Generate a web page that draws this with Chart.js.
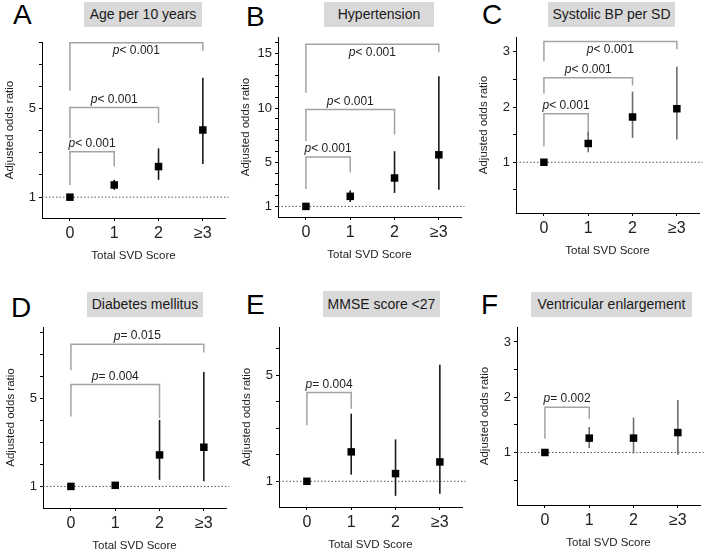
<!DOCTYPE html>
<html>
<head>
<meta charset="utf-8">
<script src="https://cdn.jsdelivr.net/npm/chart.js@4.4.1/dist/chart.umd.min.js"></script>
<style>
  body { margin: 0; background: #fff; font-family: "Liberation Sans", Arial, sans-serif; }
  #pagina { position: relative; width: 708px; height: 553px; overflow: hidden; }
  .letra { position: absolute; font-size: 28px; line-height: 28px; color: #000; }
  .titulo { position: absolute; background: #d9d9d9; color: #1a1a1a; font-size: 14px; text-align: center; }
  canvas { position: absolute; }
</style>
</head>
<body>
<div id="pagina"></div>
<script>
// Categorías del eje X
const categories = ['0', '1', '2', '≥3'];

// A - Edad por 10 años
const ageOR = [1, 1.55, 2.38, 4.03];
const ageLow = [null, 1.33, 1.78, 2.5];
const ageHigh = [null, 1.78, 3.2, 6.39];
const ageBrackets = [[1, 3.05, 1.55, 2.38, '< 0.001'], [2, 5.05, 3.65, 4.35, '< 0.001'], [3, 7.97, 5.8, 7.6, '< 0.001']];
const ageTicks = [1, 2, 3, 4, 5, 6, 7, 8];
const ageTickLabels = [1, 5];

// B - Hipertensión
const htaOR = [1, 1.92, 3.6, 5.72];
const htaLow = [null, 1.4, 2.23, 2.53];
const htaHigh = [null, 2.47, 6.05, 12.9];
const htaBrackets = [[1, 5.53, 2.6, 4.1, '< 0.001'], [2, 9.87, 6.96, 7.58, '< 0.001'], [3, 15.83, 11.4, 15.1, '< 0.001']];
const htaTicks = [1, 2, 3, 4, 5, 6, 7, 8, 9, 10, 11, 12, 13, 14, 15, 16];
const htaTickLabels = [1, 5, 10, 15];

// C - Presión sistólica por DE
const sbpOR = [1, 1.34, 1.82, 1.97];
const sbpLow = [null, 1.18, 1.44, 1.41];
const sbpHigh = [null, 1.55, 2.28, 2.73];
const sbpBrackets = [[1, 1.88, 1.29, 1.47, '< 0.001'], [2, 2.53, 2.24, 2.39, '< 0.001'], [3, 3.19, 2.83, 3.05, '< 0.001']];
const sbpTicks = [0.5, 1, 1.5, 2, 2.5, 3];
const sbpTickLabels = [1, 2, 3];

// D - Diabetes
const dmOR = [1, 1.05, 2.43, 2.78];
const dmLow = [null, null, 1.3, 1.23];
const dmHigh = [null, null, 4.02, 6.2];
const dmBrackets = [[2, 5.63, 4.17, 4.1, '= 0.004'], [3, 7.46, 6.28, 7.08, '= 0.015']];
const dmTicks = [1, 2, 3, 4, 5, 6, 7, 8];
const dmTickLabels = [1, 5];

// E - MMSE < 27
const mmseOR = [1, 2.11, 1.29, 1.73];
const mmseLow = [null, 1.25, 0.45, 0.53];
const mmseHigh = [null, 3.55, 2.58, 5.4];
const mmseBrackets = [[1, 4.35, 3.11, 3.74, '= 0.004']];
const mmseTicks = [1, 2, 3, 4, 5, 6];
const mmseTickLabels = [1, 5];

// F - Agrandamiento ventricular
const ventOR = [1, 1.26, 1.26, 1.36];
const ventLow = [null, 1.08, 0.98, 0.96];
const ventHigh = [null, 1.46, 1.63, 1.95];
const ventBrackets = [[1, 1.82, 1.25, 1.61, '= 0.002']];
const ventTicks = [0.5, 1, 1.5, 2, 2.5, 3];
const ventTickLabels = [1, 2, 3];

const X_MIN = -0.63;
const X_MAX = 3.5;
const FUENTE = '"Liberation Sans", Arial, sans-serif';

Chart.defaults.font.family = FUENTE;

const paneles = [
  { letra: 'A', titulo: 'Age per 10 years', or: ageOR, low: ageLow, high: ageHigh, brackets: ageBrackets,
    ticks: ageTicks, labels: ageTickLabels, yMin: 0.06, yMax: 8.0, ciColor: '#1a1a1a',
    area: { l: 42, t: 42, r: 225, b: 218 }, letraPos: [13, 1], caja: [84, 2, 118, 25] },
  { letra: 'B', titulo: 'Hypertension', or: htaOR, low: htaLow, high: htaHigh, brackets: htaBrackets,
    ticks: htaTicks, labels: htaTickLabels, yMin: 0.03, yMax: 16.5, ciColor: '#1a1a1a',
    area: { l: 278, t: 37, r: 461, b: 217 }, letraPos: [246, 3], caja: [324, 2, 110, 25] },
  { letra: 'C', titulo: 'Systolic BP per SD', or: sbpOR, low: sbpLow, high: sbpHigh, brackets: sbpBrackets,
    ticks: sbpTicks, labels: sbpTickLabels, yMin: 0.08, yMax: 3.27, ciColor: '#6e6e6e',
    area: { l: 516, t: 37, r: 699, b: 213 }, letraPos: [482, 1], caja: [548, 2, 127, 25] },
  { letra: 'D', titulo: 'Diabetes mellitus', or: dmOR, low: dmLow, high: dmHigh, brackets: dmBrackets,
    ticks: dmTicks, labels: dmTickLabels, yMin: 0.02, yMax: 8.24, ciColor: '#1a1a1a',
    area: { l: 43, t: 327, r: 226, b: 508 }, letraPos: [11, 294], caja: [87, 292, 116, 25] },
  { letra: 'E', titulo: 'MMSE score <27', or: mmseOR, low: mmseLow, high: mmseHigh, brackets: mmseBrackets,
    ticks: mmseTicks, labels: mmseTickLabels, yMin: 0.03, yMax: 6.82, ciColor: '#1a1a1a',
    area: { l: 279, t: 327, r: 462, b: 507 }, letraPos: [246, 291], caja: [323, 291, 117, 26] },
  { letra: 'F', titulo: 'Ventricular enlargement', or: ventOR, low: ventLow, high: ventHigh, brackets: ventBrackets,
    ticks: ventTicks, labels: ventTickLabels, yMin: 0.05, yMax: 3.27, ciColor: '#6e6e6e',
    area: { l: 517, t: 327, r: 700, b: 505 }, letraPos: [481, 291], caja: [531, 292, 161, 25] }
];

const pagina = document.getElementById('pagina');

function crearPanel(p) {
  // Letra del panel y caja de título
  const letra = document.createElement('div');
  letra.className = 'letra';
  letra.textContent = p.letra;
  letra.style.left = p.letraPos[0] + 'px';
  letra.style.top = p.letraPos[1] + 'px';
  pagina.appendChild(letra);

  const caja = document.createElement('div');
  caja.className = 'titulo';
  caja.textContent = p.titulo;
  caja.style.left = p.caja[0] + 'px';
  caja.style.top = p.caja[1] + 'px';
  caja.style.width = p.caja[2] + 'px';
  caja.style.height = p.caja[3] + 'px';
  caja.style.lineHeight = p.caja[3] + 'px';
  pagina.appendChild(caja);

  // Canvas del gráfico
  const w = p.area.r - p.area.l + 50;
  const h = p.area.b - p.area.t + 64;
  const canvas = document.createElement('canvas');
  canvas.width = w;
  canvas.height = h;
  canvas.style.left = (p.area.l - 42) + 'px';
  canvas.style.top = (p.area.t - 14) + 'px';
  pagina.appendChild(canvas);

  const datasets = [];
  // Puntos (OR)
  datasets.push({
    data: p.or.map((v, i) => ({ x: i, y: v })),
    pointStyle: 'rect', pointRadius: 5.3, backgroundColor: '#000', borderColor: '#000', borderWidth: 0
  });
  // Intervalos de confianza
  p.low.forEach((lo, i) => {
    if (lo == null) return;
    datasets.push({
      data: [{ x: i, y: lo }, { x: i, y: p.high[i] }],
      showLine: true, pointRadius: 0, borderColor: p.ciColor, borderWidth: 1.6
    });
  });
  // Corchetes de comparación
  p.brackets.forEach(b => {
    datasets.push({
      data: [{ x: 0, y: b[2] }, { x: 0, y: b[1] }, { x: b[0], y: b[1] }, { x: b[0], y: b[3] }],
      showLine: true, pointRadius: 0, borderColor: '#a3a3a3', borderWidth: 1.5
    });
  });
  // Línea de referencia en OR = 1
  datasets.push({
    data: [{ x: X_MIN, y: 1 }, { x: X_MAX + 0.08, y: 1 }],
    showLine: true, pointRadius: 0, borderColor: '#555', borderWidth: 1, borderDash: [1.5, 2], clip: false
  });

  // Plugin para los textos de p
  const textoP = {
    id: 'textoP',
    afterDatasetsDraw(chart) {
      const { ctx, chartArea, scales: { x, y } } = chart;
      ctx.save();
      ctx.fillStyle = '#222';
      ctx.textBaseline = 'middle';
      ctx.textAlign = 'left';
      p.brackets.forEach(b => {
        const cx = x.getPixelForValue(b[0] / 2);
        const ly = y.getPixelForValue(b[1]);
        const ty = (ly - chartArea.top < 14) ? ly + 8 : ly - 8;
        ctx.font = 'italic 12px ' + FUENTE;
        const wp = ctx.measureText('p').width;
        ctx.font = '12px ' + FUENTE;
        const wr = ctx.measureText(b[4]).width;
        const x0 = cx - (wp + wr) / 2;
        ctx.font = 'italic 12px ' + FUENTE;
        ctx.fillText('p', x0, ty);
        ctx.font = '12px ' + FUENTE;
        ctx.fillText(b[4], x0 + wp, ty);
      });
      ctx.restore();
    }
  };

  new Chart(canvas, {
    type: 'scatter',
    data: { datasets: datasets },
    options: {
      responsive: false,
      animation: false,
      layout: { padding: { top: 14, right: 8, left: 0, bottom: 0 } },
      plugins: { legend: { display: false }, tooltip: { enabled: false } },
      scales: {
        x: {
          type: 'linear', min: X_MIN, max: X_MAX,
          afterBuildTicks: ax => { ax.ticks = categories.map((c, i) => ({ value: i })); },
          afterFit: ax => { ax.height = 50; },
          ticks: { autoSkip: false, maxRotation: 0, padding: 3, color: '#222', font: { size: 16 },
                   callback: v => categories[v] },
          grid: { drawOnChartArea: false, tickLength: 3, color: '#000' },
          border: { color: '#000', width: 1 },
          title: { display: true, text: 'Total SVD Score', color: '#222', font: { size: 11.5 },
                   padding: { top: 0, bottom: 5 } }
        },
        y: {
          type: 'linear', min: p.yMin, max: p.yMax,
          afterBuildTicks: ax => { ax.ticks = p.ticks.map(v => ({ value: v })); },
          afterFit: ax => { ax.width = 42; },
          ticks: { autoSkip: false, padding: 3, color: '#222', font: { size: 13 },
                   callback: v => p.labels.includes(v) ? String(v) : '' },
          grid: { drawOnChartArea: false, tickLength: 3, color: '#000' },
          border: { color: '#000', width: 1 },
          title: { display: true, text: 'Adjusted odds ratio', color: '#222', font: { size: 11.5 },
                   padding: { top: 3, bottom: 0 } }
        }
      }
    },
    plugins: [textoP]
  });
}

paneles.forEach(crearPanel);
</script>
</body>
</html>
